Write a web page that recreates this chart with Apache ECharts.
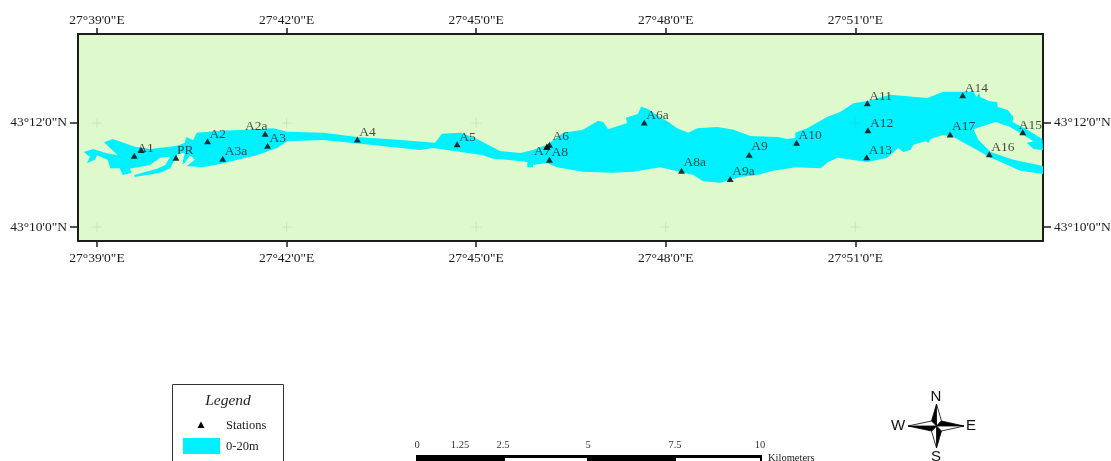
<!DOCTYPE html>
<html><head><meta charset="utf-8">
<script src="https://cdn.jsdelivr.net/npm/echarts@6/dist/echarts.min.js"></script>
<style>html,body{margin:0;padding:0;background:#fff;overflow:hidden}#c{width:1111px;height:461px}</style>
</head><body><div id="c"></div>
<script>
// Longitude = arc-minutes past 27 deg E, latitude = arc-minutes past 43 deg N
const lonTicks = [39, 42, 45, 48, 51];
const lonLabels = ['27°39\'0"E', '27°42\'0"E', '27°45\'0"E', '27°48\'0"E', '27°51\'0"E'];
const latTicks = [10, 12];
const latLabels = ['43°10\'0"N', '43°12\'0"N'];

const lakeLon = [38.79,38.94,39.14,39.33,39.11,39.25,39.60,39.84,40.27,40.39,40.41,40.52,40.58,40.95,41.37,41.79,42.01,42.58,43.12,43.59,43.80,44.35,44.46,44.75,44.98,45.38,45.70,45.90,46.12,46.38,46.69,46.93,47.01,47.09,47.39,47.37,47.56,47.61,47.72,47.86,48.04,48.18,48.36,48.50,48.82,49.07,49.34,49.77,49.92,50.05,50.05,50.24,50.56,50.76,50.97,51.19,51.55,52.14,52.39,52.66,52.87,52.92,52.96,52.98,53.11,53.25,53.25,53.41,53.50,53.49,53.72,53.96,53.97,53.82,53.71,53.82,53.66,53.45,53.22,52.87,52.95,53.14,53.50,53.97,53.97,53.61,53.34,53.11,52.87,52.55,52.39,52.19,52.16,52.11,51.92,51.87,51.76,51.68,51.51,51.19,50.72,50.57,50.45,50.05,49.70,49.45,49.18,48.86,48.59,48.44,47.91,47.49,47.17,46.69,46.28,46.12,45.90,45.90,45.81,45.81,45.49,45.27,45.11,44.32,44.11,43.32,42.58,42.01,41.85,41.53,40.95,40.68,40.42,40.55,40.47,40.39,40.35,40.39,40.28,40.16,40.00,39.60,39.59,39.95,40.08,40.16,40.00,39.84,39.52,39.55,39.41,39.36,39.21,39.17,39.00,38.97,38.84,38.89];
const lakeLat = [11.44,11.50,11.42,11.38,11.63,11.69,11.54,11.50,11.56,11.62,11.73,11.67,11.81,11.85,11.87,11.90,11.83,11.81,11.73,11.69,11.67,11.62,11.79,11.81,11.71,11.46,11.42,11.48,11.58,11.81,11.87,12.04,12.02,11.88,12.00,12.10,12.17,12.31,12.27,12.15,12.02,11.90,11.81,11.90,11.92,11.87,11.75,11.73,11.69,11.71,11.81,11.90,12.12,12.21,12.38,12.42,12.54,12.48,12.60,12.60,12.60,12.50,12.58,12.50,12.42,12.40,12.31,12.25,12.12,12.02,11.87,11.69,11.48,11.50,11.62,11.65,11.77,11.92,12.02,11.88,11.67,11.44,11.29,11.17,11.02,11.08,11.23,11.35,11.52,11.73,11.77,11.69,11.62,11.65,11.58,11.48,11.44,11.52,11.33,11.25,11.33,11.25,11.13,11.15,11.08,11.00,10.96,10.85,10.88,11.00,11.15,11.06,11.04,11.06,11.15,11.23,11.19,11.15,11.15,11.25,11.29,11.31,11.38,11.52,11.48,11.58,11.67,11.65,11.52,11.38,11.21,11.15,11.17,11.29,11.38,11.23,11.21,11.42,11.42,11.13,11.04,10.96,11.00,11.12,11.19,11.35,11.33,11.19,11.12,11.04,11.00,11.13,11.13,11.29,11.38,11.29,11.23,11.35];

const stationNames = ['A1','','PR','A2','A2a','A3','A3a','A4','A5','A6','','A7','A8','A6a','A8a','A9a','A9','A10','A11','A12','A13','A14','A15','A16','A17'];
const stationLon = [39.59,39.70,40.25,40.75,41.66,41.70,40.99,43.12,44.70,46.16,46.12,46.12,46.16,47.66,48.25,49.02,49.32,50.07,51.19,51.20,51.18,52.70,53.65,53.12,52.50];
const stationLat = [11.37,11.48,11.33,11.65,11.79,11.56,11.31,11.68,11.59,11.58,11.54,11.54,11.29,12.01,11.08,10.92,11.39,11.62,12.38,11.86,11.34,12.53,11.82,11.40,11.78];
const labelShift = {A1:[3,-7],A2a:[-20,-7],A7:[-13,5],A6:[3,-8],A8a:[2,-8],A9a:[2,-8],A9:[2,-8],A15:[-4,-7],A17:[2,-8],PR:[1,-7]};

const scaleValues = ['0','1.25','2.5','5','7.5','10'];

const serif = '"Liberation Serif","Times New Roman",serif';
const sans = '"Liberation Sans",Arial,sans-serif';
const INK = '#1c1c1c', LAKE = '#00F0FF', LAND = '#DEF9CC';

const crosses = [];
lonTicks.forEach(x => latTicks.forEach(y => crosses.push([x, y])));

const labelFrom = (ticks, labels) => v => labels[ticks.indexOf(v)] || '';
function axis(pos, min, max, ticks, labels, tickLen, margin) {
  return {
    type: 'value', position: pos, min, max, scale: true,
    splitLine: {show: false},
    axisLine: {show: true, onZero: false, lineStyle: {color: INK, width: 2}},
    axisTick: {show: true, length: tickLen, customValues: ticks, lineStyle: {color: INK, width: 1.5}},
    axisLabel: {show: true, customValues: ticks, margin, color: '#1a1a1a', fontFamily: serif, fontSize: 13.5,
      formatter: labelFrom(ticks, labels)}
  };
}
const xMin = 38.70, xMax = 53.97, yMin = 9.73, yMax = 13.71;

const stationData = stationLon.map((x, i) => {
  const n = stationNames[i], s = labelShift[n] || [2, -7];
  return {value: [x, stationLat[i]], name: n,
    label: {show: !!n, formatter: n, position: 'right', distance: 0, offset: [s[0] - 3.5, s[1]]}};
});

// scale bar, legend and north arrow
const g = [];
g.push({type:'rect', shape:{x:172.5,y:384.5,width:111,height:90}, style:{fill:'#fff',stroke:'#333',lineWidth:1}});
g.push({type:'text', style:{x:228,y:401,text:'Legend',fill:'#222',font:'italic 15.5px '+serif,align:'center',verticalAlign:'middle'}});
g.push({type:'polygon', shape:{points:[[201,421.5],[197.5,428],[204.5,428]]}, style:{fill:'#000'}});
g.push({type:'text', style:{x:226,y:426,text:'Stations',fill:'#222',font:'12.5px '+serif,verticalAlign:'middle'}});
g.push({type:'rect', shape:{x:183,y:438,width:37,height:16}, style:{fill:LAKE}});
g.push({type:'text', style:{x:226,y:447,text:'0-20m',fill:'#222',font:'12.5px '+serif,verticalAlign:'middle'}});

const scaleX = [417,460,503,588,675,760];
scaleValues.forEach((t,i)=>g.push({type:'text', style:{x:scaleX[i],y:445,text:t,fill:'#333',font:'10.5px '+serif,align:'center',verticalAlign:'middle'}}));
g.push({type:'rect', shape:{x:416,y:455,width:346,height:10}, style:{fill:'#000'}});
g.push({type:'rect', shape:{x:505,y:458,width:82,height:7}, style:{fill:'#fff'}});
g.push({type:'rect', shape:{x:676,y:458,width:84,height:7}, style:{fill:'#fff'}});
g.push({type:'text', style:{x:768,y:458.5,text:'Kilometers',fill:'#222',font:'10.5px '+serif,verticalAlign:'middle'}});

const cx=936.5, cy=426, d=5;
const arms=[[[cx,404],[cx-d,cy-d],'#000'],[[cx,404],[cx+d,cy-d],'#fff'],
            [[cx,448],[cx+d,cy+d],'#000'],[[cx,448],[cx-d,cy+d],'#fff'],
            [[964,cy],[cx+d,cy-d],'#000'],[[964,cy],[cx+d,cy+d],'#fff'],
            [[908,cy],[cx-d,cy+d],'#000'],[[908,cy],[cx-d,cy-d],'#fff']];
arms.forEach(a=>g.push({type:'polygon',shape:{points:[a[0],a[1],[cx,cy]]},style:{fill:a[2],stroke:'#000',lineWidth:0.8}}));
[['N',936,396.5],['W',898,426],['E',971,426],['S',936,457]].forEach(l=>
  g.push({type:'text',style:{x:l[1],y:l[2],text:l[0],fill:'#111',font:'15px '+sans,align:'center',verticalAlign:'middle'}}));

const chart = echarts.init(document.getElementById('c'), null, {renderer:'canvas'});
chart.setOption({
  animation: false,
  backgroundColor: '#fff',
  grid: {left: 78, right: 68, top: 34, height: 207, show: true, backgroundColor: LAND, borderWidth: 0, outerBoundsMode: 'none', containLabel: false},
  xAxis: [axis('bottom', xMin, xMax, lonTicks, lonLabels, 6, 10), axis('top', xMin, xMax, lonTicks, lonLabels, 6, 7)],
  yAxis: [axis('left', yMin, yMax, latTicks, latLabels, 8, 11), axis('right', yMin, yMax, latTicks, latLabels, 8, 11)],
  series: [
    {type: 'custom', name: 'Lake', coordinateSystem: 'cartesian2d', clip: true,
     data: lakeLon.map((x, i) => [x, lakeLat[i]]),
     renderItem(params, api) {
       if (params.dataIndex !== 0) return null;
       const pts = lakeLon.map((x, i) => api.coord([x, lakeLat[i]]));
       return {type: 'polygon', shape: {points: pts}, style: {fill: LAKE}};
     }, silent: true, z: 2},
    {type: 'scatter', name: 'Graticule', data: crosses, symbol: 'path://M5 0V10M0 5H10', symbolSize: 10,
     itemStyle: {color: 'none', borderColor: 'rgba(120,150,120,0.22)', borderWidth: 1}, silent: true, z: 3},
    {type: 'scatter', name: 'Stations', data: stationData, symbol: 'triangle', symbolSize: [7, 6],
     itemStyle: {color: '#000'},
     label: {color: '#1a1a1a', fontFamily: serif, fontSize: 13.5, align: 'left', verticalAlign: 'middle'}, z: 4}
  ],
  graphic: {elements: g}
});
</script></body></html>
